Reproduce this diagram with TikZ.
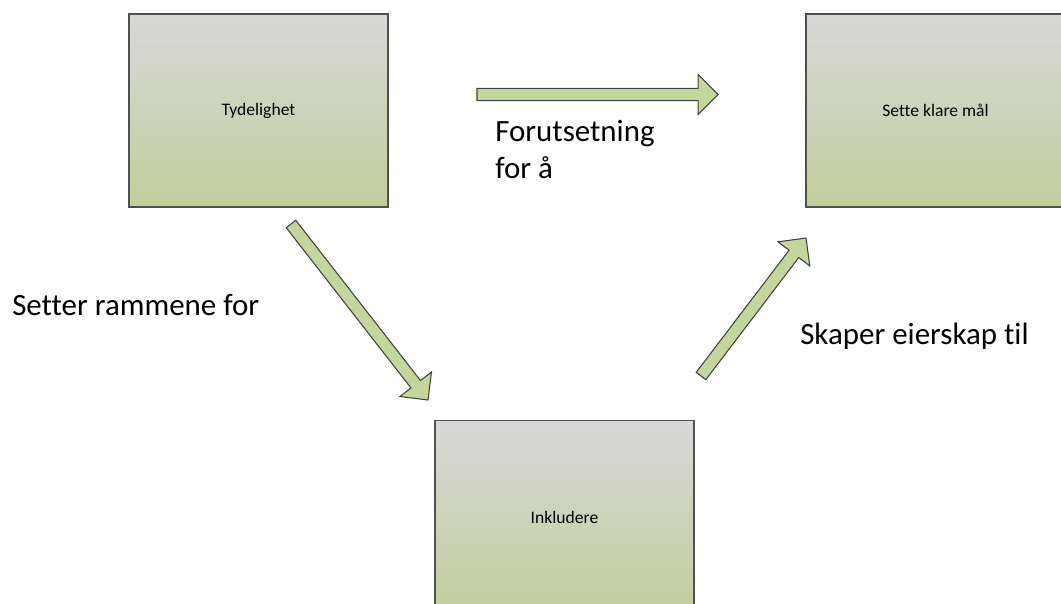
\documentclass[tikz,border=0pt]{standalone}
\usepackage{fontspec}
\setmainfont{Carlito}[Ligatures=NoCommon]
\usetikzlibrary{calc}

\definecolor{boxtop}{RGB}{216,216,216}
\definecolor{boxbottom}{RGB}{194,206,156}
\definecolor{boxline}{RGB}{80,80,80}
\definecolor{arrowfill}{RGB}{195,214,155}
\definecolor{arrowline}{RGB}{64,64,64}

\begin{document}
\begin{tikzpicture}[
  x = 0.025cm, y = -0.025cm,
  every node/.style = {inner sep=0pt},
  goalbox/.style = {draw=boxline, line width=1pt, top color=boxtop, bottom color=boxbottom,
                    minimum width=6.475cm, minimum height=4.825cm,
                    font=\fontsize{12.5}{15}\selectfont},
  arrowtext/.style = {anchor=base west, align=left, font=\fontsize{22}{26}\selectfont},
  barrow/.style = {draw=arrowline, fill=arrowfill, line width=0.75pt, line join=miter},
]

\useasboundingbox (0,0) rectangle (1061,604);
\clip (0,0) rectangle (1061,604);

\node[goalbox] (tyd)  at (258.5,110.5) {Tydelighet};
\node[goalbox] (mal)  at (935.5,110.5) {Sette klare mål};
\node[goalbox] (inkl) at (564.5,517.0) {Inkludere};

\coordinate (fa) at (477,94.5);
\coordinate (fb) at (718,94.5);
\coordinate (sa) at (291,224);
\coordinate (sb) at (428,400);
\coordinate (ka) at (701,376);
\coordinate (kb) at (806,238);

\foreach \a/\b in {fa/fb, sa/sb, ka/kb}
  \draw[barrow] let \p1 = ($(\b)!14.2pt!(\a)$) in
    ($(\a)!4.3pt!-90:(\b)$) -- ($(\p1)!4.3pt!-90:(\b)$) -- ($(\p1)!14.2pt!-90:(\b)$)
    -- (\b) -- ($(\p1)!14.2pt!90:(\b)$) -- ($(\p1)!4.3pt!90:(\b)$)
    -- ($(\a)!4.3pt!90:(\b)$) -- cycle;

% the base anchor of a two line node sits on its last line
\node[arrowtext] (forut)  at (495,178) {Forutsetning\\for å};
\node[arrowtext] (setter) at (12,315)  {Setter rammene for};
\node[arrowtext] (skaper) at (800,344) {Skaper eierskap til};

\end{tikzpicture}
\end{document}
